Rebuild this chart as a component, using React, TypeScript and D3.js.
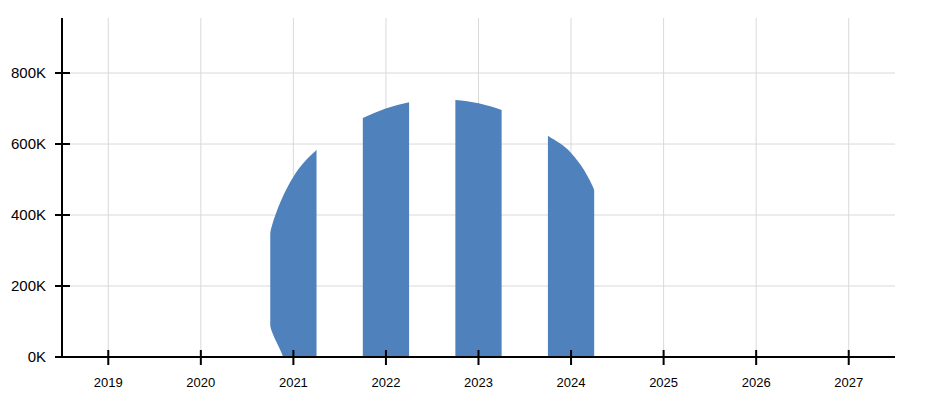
import React from "react";
import * as d3 from "d3";

// Bars (category years) and the smooth outline that shapes them
const barYears = [2021, 2022, 2023, 2024];
const tickYears = [2019, 2020, 2021, 2022, 2023, 2024, 2025, 2026, 2027];
const yTicks = [0, 200000, 400000, 600000, 800000];

// outline points (year position, value) of the smooth shape, clockwise
const outlineX = [2020.89, 2020.745, 2020.69, 2020.765, 2021.0, 2021.25, 2021.75, 2022.25, 2022.75, 2023.25, 2023.75, 2024.0, 2024.26, 2024.42, 2024.38, 2022.6, 2021.0];
const outlineY = [0, 90000, 230000, 367000, 508000, 583000, 673000, 718000, 724000, 696000, 623000, 575000, 465000, 250000, 0, -150000, -90000];

const W = 932, H = 403;
const m = { left: 62, right: 895, top: 18, bottom: 357 };

export default function App() {
  const x = d3.scaleLinear().domain([2018.5, 2027.5]).range([m.left, m.right]);
  const y = d3.scaleLinear().domain([0, 955000]).range([m.bottom, m.top]);
  const bw = x(2018.5 + 0.5) - x(2018.5);
  const pts: [number, number][] = outlineX.map((v, i) => [x(v), y(outlineY[i])]);
  const path = d3.line().curve(d3.curveCatmullRomClosed.alpha(0.5))(pts) || "";
  const fmt = (v: number) => `${Math.round(v / 1000)}K`;
  return (
    <svg width={W} height={H} style={{ position: "absolute", left: 0, top: 0 }} fontFamily="'Liberation Sans', Arial, sans-serif">
      <defs>
        <clipPath id="bars">
          {barYears.map((b) => (
            <rect key={b} x={x(b) - bw / 2} y={m.top} width={bw} height={m.bottom - m.top} />
          ))}
        </clipPath>
      </defs>
      {/* grid */}
      {tickYears.map((t) => (
        <line key={"gx" + t} x1={x(t)} x2={x(t)} y1={m.top} y2={m.bottom} stroke="#d9d9d9" strokeWidth={1} />
      ))}
      {yTicks.slice(1).map((t) => (
        <line key={"gy" + t} x1={m.left} x2={m.right} y1={y(t)} y2={y(t)} stroke="#d9d9d9" strokeWidth={1} />
      ))}
      <path d={path} fill="#4f81bd" clipPath="url(#bars)" />
      {/* axes */}
      <line x1={m.left} x2={m.left} y1={m.top} y2={m.bottom} stroke="#000" strokeWidth={2} />
      <line x1={m.left - 7} x2={m.right} y1={m.bottom} y2={m.bottom} stroke="#000" strokeWidth={2} />
      {yTicks.map((t) => (
        <g key={"yt" + t}>
          <line x1={m.left - 7} x2={m.left + 8} y1={y(t)} y2={y(t)} stroke="#000" strokeWidth={2} />
          <text x={m.left - 16} y={y(t)} dy="0.35em" textAnchor="end" fontSize={15} fill="#000">{fmt(t)}</text>
        </g>
      ))}
      {tickYears.map((t) => (
        <g key={"xt" + t}>
          <line x1={x(t)} x2={x(t)} y1={m.bottom - 7} y2={m.bottom + 8} stroke="#000" strokeWidth={2} />
          <text x={x(t)} y={m.bottom + 30} textAnchor="middle" fontSize={13} fill="#000">{t}</text>
        </g>
      ))}
    </svg>
  );
}
